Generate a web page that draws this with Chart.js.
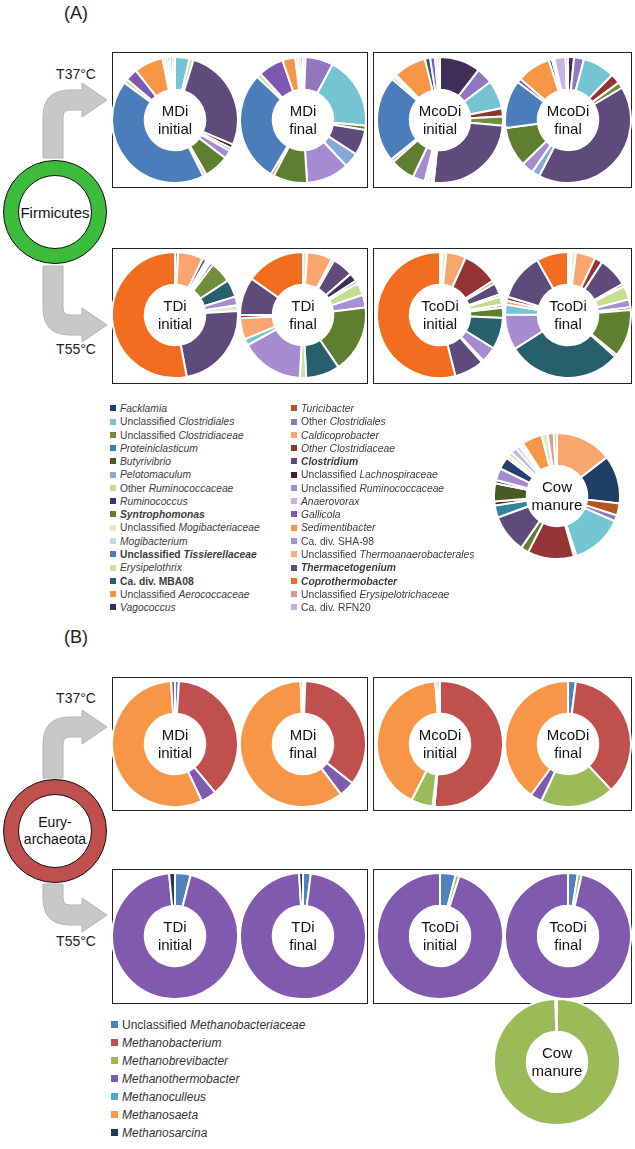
<!DOCTYPE html>
<html>
<head>
<meta charset="utf-8">
<script src="https://cdn.jsdelivr.net/npm/chart.js"></script>
<style>
  body { margin: 0; background: #fff; font-family: "Liberation Sans", Arial, sans-serif; color: #222; }
  #page { position: relative; width: 635px; height: 1149px; overflow: hidden; }
  .abs { position: absolute; }
  .box { position: absolute; border: 1.5px solid #222; box-sizing: border-box; }
  .lbl { position: absolute; transform: translate(-50%, -50%); text-align: center; white-space: nowrap; }
  .centerText { font-size: 15px; line-height: 18px; color: #111; }
  .legA { position: absolute; font-size: 10.3px; color: #3c3c3c; white-space: nowrap; line-height: 12px; }
  .legB { position: absolute; font-size: 12px; color: #333; white-space: nowrap; line-height: 14px; }
  .sw { display: inline-block; vertical-align: middle; margin-right: 4px; position: relative; top: -1px; }
  .ring { position: absolute; border-radius: 50%; border: 1.5px solid #111; box-sizing: border-box; }
</style>
</head>
<body>
<div id="page"></div>
<script>
// --- Firmicutes taxa (legend order: left column then right column) ---
const taxaA = [
  "Facklamia", "Unclassified Clostridiales", "Unclassified Clostridiaceae", "Proteiniclasticum",
  "Butyrivibrio", "Pelotomaculum", "Other Ruminococcaceae", "Ruminococcus",
  "Syntrophomonas", "Unclassified Mogibacteriaceae", "Mogibacterium", "Unclassified Tissierellaceae",
  "Erysipelothrix", "Ca. div. MBA08", "Unclassified Aerococcaceae", "Vagococcus",
  "Turicibacter", "Other Clostridiales", "Caldicoprobacter", "Other Clostridiaceae",
  "Clostridium", "Unclassified Lachnospiraceae", "Unclassified Ruminococcaceae", "Anaerovorax",
  "Gallicola", "Sedimentibacter", "Ca. div. SHA-98", "Unclassified Thermoanaerobacterales",
  "Thermacetogenium", "Coprothermobacter", "Unclassified Erysipelotrichaceae", "Ca. div. RFN20"
];

// relative abundance (%) per sample, slices clockwise from 12 o'clock
const mdiInitial = [
  ["Unclassified Clostridiales", 3.5], ["Other Ruminococcaceae", 1], ["Clostridium", 25],
  ["Unclassified Lachnospiraceae", 1], ["Pelotomaculum", 0.7], ["Unclassified Ruminococcaceae", 2],
  ["Syntrophomonas", 6], ["Anaerovorax", 0.8], ["Unclassified Tissierellaceae", 40],
  ["Erysipelothrix", 1], ["Gallicola", 3], ["Unclassified Aerococcaceae", 7],
  ["Ca. div. SHA-98", 0.6], ["Unclassified Erysipelotrichaceae", 0.6], ["Other Clostridiales", 0.6],
  ["Vagococcus", 0.6], ["Ca. div. RFN20", 0.6]
];
const mdiFinal = [
  ["Pelotomaculum", 0.6], ["Other Clostridiales", 6.5], ["Unclassified Clostridiales", 17],
  ["Syntrophomonas", 1], ["Clostridium", 6], ["Pelotomaculum", 3.5],
  ["Unclassified Ruminococcaceae", 10], ["Syntrophomonas", 8], ["Turicibacter", 0.7],
  ["Unclassified Tissierellaceae", 26], ["Erysipelothrix", 1], ["Gallicola", 6],
  ["Unclassified Aerococcaceae", 3], ["Anaerovorax", 0.6], ["Ca. div. SHA-98", 0.6], ["Pelotomaculum", 0.6]
];
const mcodiInitial = [
  ["Vagococcus", 10], ["Other Clostridiales", 4], ["Unclassified Clostridiales", 7],
  ["Other Clostridiaceae", 2], ["Unclassified Clostridiaceae", 2.2], ["Clostridium", 24],
  ["Mogibacterium", 0.6], ["Pelotomaculum", 0.6], ["Caldicoprobacter", 0.5], ["Unclassified Mogibacteriaceae", 0.5],
  ["Unclassified Ruminococcaceae", 3], ["Syntrophomonas", 6], ["Anaerovorax", 0.8],
  ["Unclassified Tissierellaceae", 21], ["Other Ruminococcaceae", 0.8], ["Anaerovorax", 0.6],
  ["Unclassified Aerococcaceae", 8], ["Ca. div. MBA08", 1.3], ["Gallicola", 1.2],
  ["Unclassified Erysipelotrichaceae", 0.6], ["Caldicoprobacter", 0.6]
];
const mcodiFinal = [
  ["Vagococcus", 1.5], ["Other Clostridiales", 2.5], ["Unclassified Clostridiales", 8],
  ["Other Clostridiaceae", 2.5], ["Unclassified Clostridiaceae", 1.5], ["Clostridium", 40],
  ["Pelotomaculum", 2], ["Unclassified Ruminococcaceae", 3], ["Syntrophomonas", 10],
  ["Unclassified Tissierellaceae", 12], ["Gallicola", 1], ["Unclassified Aerococcaceae", 8.5],
  ["Ca. div. MBA08", 0.8], ["Mogibacterium", 0.6], ["Anaerovorax", 2.8], ["Ca. div. SHA-98", 0.6]
];
const tdiInitial = [
  ["Pelotomaculum", 0.8], ["Caldicoprobacter", 6.5], ["Clostridium", 1],
  ["Other Ruminococcaceae", 0.6], ["Anaerovorax", 0.6], ["Gallicola", 0.8],
  ["Unclassified Clostridiaceae", 5.5], ["Ca. div. MBA08", 4.5], ["Ca. div. SHA-98", 2.2],
  ["Unclassified Mogibacteriaceae", 1.5], ["Thermacetogenium", 23], ["Coprothermobacter", 53]
];
const tdiFinal = [
  ["Unclassified Mogibacteriaceae", 1], ["Caldicoprobacter", 6], ["Unclassified Clostridiaceae", 0.6],
  ["Thermacetogenium", 5], ["Vagococcus", 2], ["Pelotomaculum", 0.7],
  ["Other Ruminococcaceae", 3], ["Ca. div. SHA-98", 3], ["Syntrophomonas", 16],
  ["Ca. div. MBA08", 8], ["Erysipelothrix", 1.5], ["Unclassified Ruminococcaceae", 15],
  ["Unclassified Clostridiales", 1.5], ["Caldicoprobacter", 5], ["Other Clostridiaceae", 0.8],
  ["Thermacetogenium", 9], ["Coprothermobacter", 14]
];
const tcodiInitial = [
  ["Other Clostridiaceae", 0.6], ["Unclassified Mogibacteriaceae", 1], ["Caldicoprobacter", 5],
  ["Other Clostridiaceae", 9], ["Unclassified Clostridiaceae", 0.8], ["Thermacetogenium", 3],
  ["Syntrophomonas", 0.6], ["Other Ruminococcaceae", 2], ["Ca. div. SHA-98", 0.8],
  ["Syntrophomonas", 2.5], ["Ca. div. MBA08", 8], ["Unclassified Ruminococcaceae", 4],
  ["Caldicoprobacter", 0.5], ["Thermacetogenium", 7.5], ["Coprothermobacter", 53]
];
const tcodiFinal = [
  ["Unclassified Erysipelotrichaceae", 0.5], ["Mogibacterium", 0.5], ["Unclassified Mogibacteriaceae", 1],
  ["Caldicoprobacter", 5], ["Other Clostridiaceae", 2], ["Thermacetogenium", 7.5],
  ["Unclassified Clostridiaceae", 0.7], ["Other Ruminococcaceae", 3.5], ["Ca. div. SHA-98", 2],
  ["Ruminococcus", 0.7], ["Syntrophomonas", 12], ["Turicibacter", 0.6],
  ["Ca. div. MBA08", 29], ["Unclassified Ruminococcaceae", 9], ["Unclassified Clostridiales", 2.5],
  ["Caldicoprobacter", 1], ["Other Clostridiaceae", 1], ["Thermacetogenium", 12], ["Coprothermobacter", 8]
];
const cowManureA = [
  ["Caldicoprobacter", 14], ["Facklamia", 12], ["Turicibacter", 3], ["Other Clostridiales", 1.5],
  ["Unclassified Clostridiales", 13], ["Sedimentibacter", 0.6], ["Other Clostridiaceae", 11.5],
  ["Syntrophomonas", 2], ["Clostridium", 9.5], ["Proteiniclasticum", 3],
  ["Unclassified Lachnospiraceae", 1], ["Butyrivibrio", 4.5], ["Vagococcus", 0.8],
  ["Unclassified Ruminococcaceae", 3], ["Ruminococcus", 3], ["Unclassified Mogibacteriaceae", 0.8],
  ["Erysipelothrix", 1], ["Anaerovorax", 1.5], ["Mogibacterium", 1], ["Pelotomaculum", 0.5],
  ["Ca. div. RFN20", 0.6], ["Unclassified Aerococcaceae", 5], ["Unclassified Mogibacteriaceae", 1.5],
  ["Unclassified Erysipelotrichaceae", 1.5], ["Other Ruminococcaceae", 0.8]
];

// --- Euryarchaeota taxa ---
const taxaB = [
  "Unclassified Methanobacteriaceae", "Methanobacterium", "Methanobrevibacter",
  "Methanothermobacter", "Methanoculleus", "Methanosaeta", "Methanosarcina"
];
const mdiInitialB = [["Unclassified Methanobacteriaceae", 1], ["Methanobacterium", 38], ["Methanothermobacter", 4], ["Methanosaeta", 56], ["Methanothermobacter", 1]];
const mdiFinalB = [["Unclassified Methanobacteriaceae", 0.6], ["Methanobacterium", 35], ["Methanothermobacter", 4], ["Methanosaeta", 59.5], ["Unclassified Methanobacteriaceae", 0.6]];
const mcodiInitialB = [["Methanobacterium", 51], ["Methanothermobacter", 0.5], ["Methanobrevibacter", 5.5], ["Methanosaeta", 41], ["Methanothermobacter", 0.6], ["Unclassified Methanobacteriaceae", 0.6]];
const mcodiFinalB = [["Unclassified Methanobacteriaceae", 2], ["Methanobacterium", 36], ["Methanobrevibacter", 19], ["Methanothermobacter", 3], ["Methanosaeta", 40]];
const tdiInitialB = [["Unclassified Methanobacteriaceae", 4], ["Methanothermobacter", 94.5], ["Methanosarcina", 1.5]];
const tdiFinalB = [["Unclassified Methanobacteriaceae", 2], ["Methanothermobacter", 97], ["Methanosarcina", 1]];
const tcodiInitialB = [["Unclassified Methanobacteriaceae", 4], ["Methanobrevibacter", 1], ["Methanothermobacter", 95]];
const tcodiFinalB = [["Unclassified Methanobacteriaceae", 2.5], ["Methanobrevibacter", 1], ["Methanothermobacter", 96.5]];
const cowManureB = [["Methanobrevibacter", 99.6], ["Methanosaeta", 0.4]];

// --- styles (kept apart from the data) ---
const colorsA = [
  "#1f3f66", "#74c4d4", "#6f8f3a", "#31859c", "#4a5a24", "#86a9d8", "#c4df92", "#24426f",
  "#5f7f30", "#dcedc4", "#b3dfe9", "#4c7dbb", "#c9e3a0", "#275f6d", "#f79646", "#3e2f58",
  "#b4561f", "#9277c0", "#f9a66e", "#953434", "#5f4a7c", "#4b1c1c", "#a58bcf", "#c6b6e0",
  "#7d58b0", "#f7923f", "#a68fd2", "#fab07f", "#5f4a7c", "#f26d1f", "#d99796", "#c5b2e2"
];
const colorsB = ["#4f81bd", "#c0504d", "#9bbb59", "#7f5aae", "#4bacc6", "#f79646", "#1f3864"];

const legendTextA = [
  "<i>Facklamia</i>", "Unclassified <i>Clostridiales</i>", "Unclassified <i>Clostridiaceae</i>", "<i>Proteiniclasticum</i>",
  "<i>Butyrivibrio</i>", "<i>Pelotomaculum</i>", "Other <i>Ruminococcaceae</i>", "<i>Ruminococcus</i>",
  "<b><i>Syntrophomonas</i></b>", "Unclassified <i>Mogibacteriaceae</i>", "<i>Mogibacterium</i>", "<b>Unclassified <i>Tissierellaceae</i></b>",
  "<i>Erysipelothrix</i>", "<b>Ca. div. MBA08</b>", "Unclassified <i>Aerococcaceae</i>", "<i>Vagococcus</i>",
  "<i>Turicibacter</i>", "Other <i>Clostridiales</i>", "<i>Caldicoprobacter</i>", "<i>Other Clostridiaceae</i>",
  "<b><i>Clostridium</i></b>", "Unclassified <i>Lachnospiraceae</i>", "Unclassified <i>Ruminococcaceae</i>", "<i>Anaerovorax</i>",
  "<i>Gallicola</i>", "<i>Sedimentibacter</i>", "Ca. div. SHA-98", "Unclassified <i>Thermoanaerobacterales</i>",
  "<b><i>Thermacetogenium</i></b>", "<b><i>Coprothermobacter</i></b>", "Unclassified <i>Erysipelotrichaceae</i>", "Ca. div. RFN20"
];
const legendTextB = [
  "Unclassified <i>Methanobacteriaceae</i>", "<i>Methanobacterium</i>", "<i>Methanobrevibacter</i>",
  "<i>Methanothermobacter</i>", "<i>Methanoculleus</i>", "<i>Methanosaeta</i>", "<i>Methanosarcina</i>"
];

document.addEventListener("DOMContentLoaded", function () {
  const page = document.getElementById("page");

  function add(html, cls, x, y, extra) {
    const d = document.createElement("div");
    d.className = cls;
    d.innerHTML = html;
    d.style.left = x + "px";
    d.style.top = y + "px";
    if (extra) Object.assign(d.style, extra);
    page.appendChild(d);
    return d;
  }

  // --- Boxes around sample pairs ---
  const boxes = [
    [112, 52, 256, 136], [373, 52, 259, 136], [112, 248, 256, 136], [373, 248, 259, 136],
    [112, 677, 256, 134], [373, 677, 259, 134], [112, 869, 256, 135], [373, 869, 259, 135]
  ];
  boxes.forEach(b => add("", "box", b[0], b[1], { width: b[2] + "px", height: b[3] + "px" }));

  // --- Arrows ---
  function arrowPath(ys, yc, down) {
    const s = down ? -1 : 1;
    return `M43,${ys} L43,${yc + 17 * s} Q43,${yc - 10 * s} 70,${yc - 10 * s} L82,${yc - 10 * s} L82,${yc - 17 * s} ` +
      `L107,${yc} L82,${yc + 17 * s} L82,${yc + 10 * s} L70,${yc + 10 * s} Q63,${yc + 10 * s} 63,${yc + 17 * s} L63,${ys} Z`;
  }
  const svgNS = "http://www.w3.org/2000/svg";
  const svg = document.createElementNS(svgNS, "svg");
  svg.setAttribute("width", 635);
  svg.setAttribute("height", 1149);
  svg.style.position = "absolute";
  svg.style.left = "0px";
  svg.style.top = "0px";
  [[158, 100, false], [266, 325, true], [778, 727, false], [884, 915, true]].forEach(a => {
    const p = document.createElementNS(svgNS, "path");
    p.setAttribute("d", arrowPath(a[0], a[1], a[2]));
    p.setAttribute("fill", "#c8c8c8");
    p.setAttribute("stroke", "#b4b4b4");
    p.setAttribute("stroke-width", "1");
    svg.appendChild(p);
  });
  page.appendChild(svg);

  // --- Phylum rings ---
  function phylumRing(cx, cy, color, text, size) {
    add("", "ring", cx - 52, cy - 52, { width: "104px", height: "104px", background: color });
    add("", "ring", cx - 37, cy - 37, { width: "74px", height: "74px", background: "#fff" });
    add(text, "lbl", cx, cy, { fontSize: size + "px", lineHeight: "17px", color: "#111" });
  }
  phylumRing(55, 212, "#3dbb3a", "Firmicutes", 15);
  phylumRing(55, 831, "#c0504d", "Eury-<br>archaeota", 14);

  // --- Text labels ---
  add("(A)", "lbl", 76, 13, { fontSize: "18px" });
  add("(B)", "lbl", 76, 637, { fontSize: "18px" });
  add("T37°C", "lbl", 76, 74, { fontSize: "14px" });
  add("T55°C", "lbl", 76, 349, { fontSize: "14px" });
  add("T37°C", "lbl", 76, 698, { fontSize: "14px" });
  add("T55°C", "lbl", 76, 941, { fontSize: "14px" });

  // --- Doughnut helper ---
  function donut(cx, cy, slices, taxa, colors, label) {
    const holder = document.createElement("div");
    holder.className = "abs";
    holder.style.left = (cx - 64) + "px";
    holder.style.top = (cy - 64) + "px";
    const canvas = document.createElement("canvas");
    canvas.width = 128;
    canvas.height = 128;
    holder.appendChild(canvas);
    page.appendChild(holder);

    new Chart(canvas.getContext("2d"), {
      type: "doughnut",
      data: {
        labels: slices.map(s => s[0]),
        datasets: [{
          data: slices.map(s => s[1]),
          backgroundColor: slices.map(s => colors[taxa.indexOf(s[0])]),
          borderColor: "#fff",
          borderWidth: 2,
          hoverOffset: 0
        }]
      },
      options: {
        responsive: false,
        animation: false,
        cutout: "48%",
        events: [],
        plugins: { legend: { display: false }, tooltip: { enabled: false } }
      }
    });
    add(label, "lbl centerText", cx, cy);
  }

  // Firmicutes
  donut(175, 120, mdiInitial, taxaA, colorsA, "MDi<br>initial");
  donut(303, 120, mdiFinal, taxaA, colorsA, "MDi<br>final");
  donut(440, 120, mcodiInitial, taxaA, colorsA, "McoDi<br>initial");
  donut(568, 120, mcodiFinal, taxaA, colorsA, "McoDi<br>final");
  donut(175, 315, tdiInitial, taxaA, colorsA, "TDi<br>initial");
  donut(303, 315, tdiFinal, taxaA, colorsA, "TDi<br>final");
  donut(440, 315, tcodiInitial, taxaA, colorsA, "TcoDi<br>initial");
  donut(568, 315, tcodiFinal, taxaA, colorsA, "TcoDi<br>final");
  donut(557, 496, cowManureA, taxaA, colorsA, "Cow<br>manure");

  // Euryarchaeota
  donut(175, 744, mdiInitialB, taxaB, colorsB, "MDi<br>initial");
  donut(303, 744, mdiFinalB, taxaB, colorsB, "MDi<br>final");
  donut(440, 744, mcodiInitialB, taxaB, colorsB, "McoDi<br>initial");
  donut(568, 744, mcodiFinalB, taxaB, colorsB, "McoDi<br>final");
  donut(175, 936, tdiInitialB, taxaB, colorsB, "TDi<br>initial");
  donut(303, 936, tdiFinalB, taxaB, colorsB, "TDi<br>final");
  donut(440, 936, tcodiInitialB, taxaB, colorsB, "TcoDi<br>initial");
  donut(568, 936, tcodiFinalB, taxaB, colorsB, "TcoDi<br>final");
  donut(557, 1062, cowManureB, taxaB, colorsB, "Cow<br>manure");

  // --- Legends ---
  taxaA.forEach((t, i) => {
    const col = i < 16 ? 0 : 1;
    const row = i % 16;
    const x = col === 0 ? 110 : 291;
    const y = 403 + row * 13.27;
    add(`<span class="sw" style="width:6px;height:6px;background:${colorsA[i]}"></span>${legendTextA[i]}`,
      "legA", x, y);
  });
  taxaB.forEach((t, i) => {
    add(`<span class="sw" style="width:7px;height:7px;background:${colorsB[i]}"></span>${legendTextB[i]}`,
      "legB", 111, 1018 + i * 18);
  });
});
</script>
</body>
</html>
